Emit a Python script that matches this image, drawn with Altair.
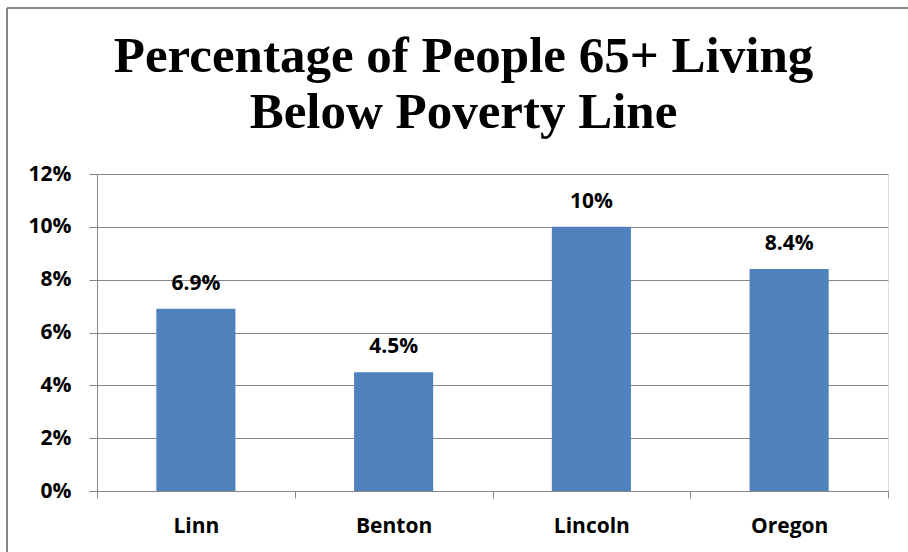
import altair as alt
import pandas as pd

categories = ["Linn", "Benton", "Lincoln", "Oregon"]
values = [0.069, 0.045, 0.100, 0.084]
value_labels = ["6.9%", "4.5%", "10%", "8.4%"]
y_ticks = [0, 0.02, 0.04, 0.06, 0.08, 0.10, 0.12]
title_lines = ["Percentage of People 65+ Living", "Below Poverty Line"]

df = pd.DataFrame({"cat": categories, "val": values, "lab": value_labels})

GRAY = "#868686"
BLUE = "#4F81BD"
FONT = "Open Sans"

x_enc = alt.X(
    "cat:N",
    sort=categories,
    title=None,
    scale=alt.Scale(paddingInner=0, paddingOuter=0),
    axis=alt.Axis(
        tickBand="extent",
        labelAngle=0,
        labelFont=FONT,
        labelFontWeight="bold",
        labelFontSize=21,
        labelColor="black",
        labelPadding=17,
        tickSize=7,
        tickColor=GRAY,
        domainColor=GRAY,
        grid=False,
    ),
)
y_enc = alt.Y(
    "val:Q",
    title=None,
    scale=alt.Scale(domain=[0, 0.12], nice=False),
    axis=alt.Axis(
        values=y_ticks,
        format=".0%",
        labelFont=FONT,
        labelFontWeight="bold",
        labelFontSize=21,
        labelColor="black",
        labelPadding=18,
        tickSize=8,
        tickColor=GRAY,
        domainColor=GRAY,
        gridColor=GRAY,
        gridOpacity=1,
        gridWidth=1,
    ),
)

bars = alt.Chart(df).mark_bar(color=BLUE, width={"band": 0.4}).encode(x=x_enc, y=y_enc)

labels = alt.Chart(df).mark_text(
    font=FONT, fontWeight="bold", fontSize=21, color="black",
    baseline="alphabetic", dy=-19
).encode(x=alt.X("cat:N", sort=categories), y="val:Q", text="lab:N")

border_left = alt.Chart(df).mark_rule(color=GRAY, strokeWidth=2, clip=False).encode(
    x=alt.value(-90), y=alt.value(-166), y2=alt.value(400)
)
border_top = alt.Chart(df).mark_rule(color=GRAY, strokeWidth=2, clip=False).encode(
    x=alt.value(-90), x2=alt.value(840), y=alt.value(-166)
)

chart = alt.layer(border_left, border_top, bars, labels).properties(
    width=791,
    height=317,
    autosize=alt.AutoSizeParams(type="none"),
    padding={"left": 97, "top": 174, "right": 20, "bottom": 61},
    title=alt.TitleParams(
        text=title_lines,
        font="Liberation Serif",
        fontWeight="bold",
        fontSize=51,
        lineHeight=56,
        color="black",
        anchor="middle",
        frame="group",
        dx=-29,
        offset=-132,
    ),
).configure_view(stroke=None).configure(background="white")

chart.save("out.html", embed_options={"renderer": "svg", "actions": False})
